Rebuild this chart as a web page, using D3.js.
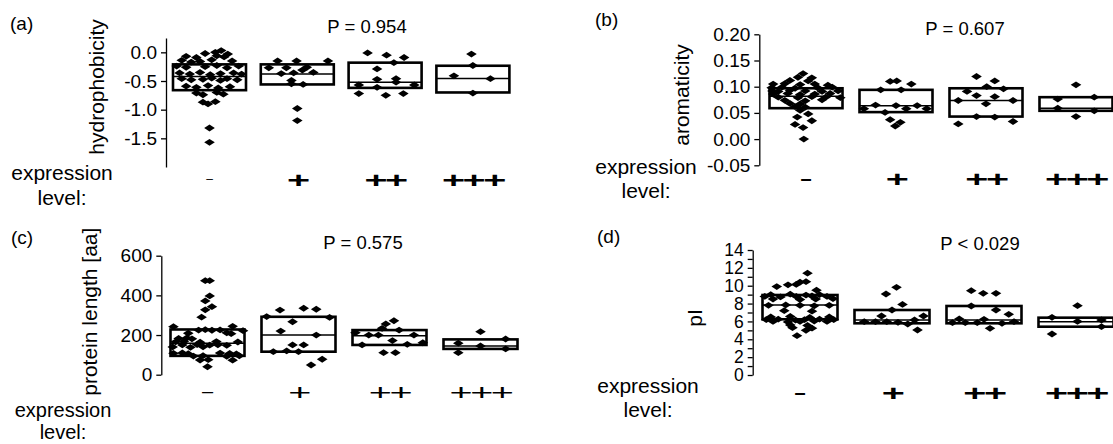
<!DOCTYPE html>
<html><head><meta charset="utf-8">
<script src="https://cdn.jsdelivr.net/npm/d3@7"></script>
<style>
body{margin:0;background:#fff}
svg{display:block}
text{font-family:"Liberation Sans",Arial,Helvetica,sans-serif;fill:#000}
</style>
</head><body>
<svg id="c" width="1113" height="444"></svg>
<script>
// ---------- DATA ----------
const categories = ["–", "+", "++", "+++"];

// each point: [value, horizontal jitter as fraction of box width]
const hydrophobicityPoints = [
  [[0.03,0.16],[0.0,0.08],[-0.02,-0.06],[-0.03,0.25],
   [-0.07,-0.32],[-0.09,-0.18],[-0.06,0.10],[-0.08,0.20],
   [-0.14,-0.38],[-0.16,-0.13],[-0.13,0.03],[-0.15,0.31],[-0.17,-0.25],
   [-0.24,-0.45],[-0.26,-0.32],[-0.25,-0.06],[-0.23,0.10],[-0.27,0.24],[-0.24,0.40],
   [-0.36,-0.41],[-0.38,-0.27],[-0.35,-0.13],[-0.39,0.01],[-0.37,0.15],[-0.36,0.33],[-0.38,0.44],
   [-0.46,-0.38],[-0.48,-0.25],[-0.47,-0.09],[-0.45,0.03],[-0.49,0.15],[-0.46,0.24],[-0.48,0.38],
   [-0.59,-0.32],[-0.61,-0.18],[-0.58,-0.02],[-0.62,0.12],[-0.60,0.28],
   [-0.71,-0.18],[-0.74,-0.09],[-0.70,0.10],[-0.73,0.19],
   [-0.87,-0.09],[-0.90,-0.02],[-0.86,0.08],
   [-1.32,0],[-1.57,0]],
  [[-0.15,-0.27],[-0.15,-0.01],[-0.15,0.42],[-0.27,-0.39],[-0.27,-0.15],[-0.26,0.13],[-0.31,0.07],
   [-0.37,-0.22],[-0.36,-0.05],[-0.35,0.22],[-0.49,-0.08],[-0.55,-0.08],[-0.56,0.08],[-0.98,0],[-1.19,0]],
  [[-0.01,-0.24],[-0.05,0.02],[-0.09,0.26],[-0.18,0.12],[-0.29,-0.11],[-0.47,-0.11],[-0.46,0.15],
   [-0.52,0.15],[-0.57,-0.36],[-0.61,-0.11],[-0.57,0.40],[-0.72,-0.36],[-0.75,0.01],[-0.72,0.25]],
  [[-0.03,-0.02],[-0.23,0],[-0.41,-0.26],[-0.46,0.24],[-0.71,0]]
];
const hydrophobicityBoxes = [[-0.66,-0.42,-0.21],[-0.56,-0.38,-0.21],[-0.62,-0.52,-0.18],[-0.70,-0.456,-0.234]];
const hydrophobicityTicks = [0, -0.5, -1.0, -1.5];

const aromaticityPoints = [
  [[0.125,-0.04],[0.118,-0.11],[0.117,0.08],[0.112,-0.22],[0.111,0.03],
   [0.105,-0.45],[0.106,-0.29],[0.104,-0.08],[0.105,0.12],[0.103,0.30],
   [0.098,-0.47],[0.099,-0.33],[0.097,-0.15],[0.098,0.16],[0.099,0.36],
   [0.092,-0.46],[0.091,-0.38],[0.093,-0.22],[0.092,-0.01],[0.091,0.22],[0.092,0.44],
   [0.086,-0.45],[0.087,-0.25],[0.085,-0.08],[0.086,0.12],[0.087,0.33],
   [0.080,-0.38],[0.079,-0.11],[0.081,0.08],[0.080,0.27],[0.079,0.47],
   [0.074,-0.29],[0.073,-0.01],[0.075,0.22],
   [0.068,-0.22],[0.067,-0.08],[0.062,-0.15],[0.061,-0.01],
   [0.055,-0.08],[0.048,0.03],[0.042,-0.12],[0.035,0.08],[0.028,-0.15],[0.022,-0.04],[0.0,-0.03]],
  [[0.110,-0.08],[0.111,0.01],[0.105,0.21],[0.094,-0.21],[0.094,0.07],[0.065,-0.28],[0.064,0.0],
   [0.064,0.29],[0.058,-0.44],[0.058,0.14],[0.058,0.42],[0.051,-0.15],[0.037,-0.08],[0.032,0.06],[0.025,-0.01]],
  [[0.1195,-0.13],[0.111,0.12],[0.100,0.01],[0.096,0.24],[0.091,-0.26],[0.083,-0.13],[0.081,0.12],
   [0.0737,-0.38],[0.0737,0.37],[0.0674,0],[0.043,-0.13],[0.042,0.12],[0.0336,0.37],[0.029,-0.38]],
  [[0.1036,0],[0.0763,-0.25],[0.080,0.25],[0.059,-0.25],[0.054,0.25],[0.043,0]]
];
const aromaticityBoxes = [[0.059,0.082,0.097],[0.0515,0.0636,0.094],[0.043,0.0737,0.097],[0.054,0.059,0.080]];
const aromaticityTicks = [0.20, 0.15, 0.10, 0.05, 0.00, -0.05];

const lengthPoints = [
  [[474,-0.03],[474,0.03],[397,0.03],[372,-0.03],[343,0.06],[327,-0.03],[290,-0.08],
   [242,-0.46],[244,0.34],
   [225,-0.12],[227,-0.03],[224,0.06],[226,0.17],[222,0.48],
   [209,-0.26],[211,0.26],[207,0.32],
   [183,-0.39],[185,-0.28],[181,-0.21],
   [166,-0.43],[168,-0.32],[164,-0.10],[167,0.12],[165,0.41],
   [150,-0.34],[152,-0.14],[149,0.03],[151,0.14],[148,0.26],
   [140,-0.47],[138,-0.23],[141,-0.06],
   [108,-0.46],[110,-0.34],[106,-0.26],[109,0.17],[107,0.30],[105,0.39],
   [94,-0.19],[96,-0.06],[93,0.26],[95,0.43],
   [74,-0.10],[76,0.01],[73,0.34],
   [40,0.0]],
  [[326,-0.25],[335,0.07],[330,0.24],[293,-0.43],[267,-0.08],[289,0.42],[220,-0.24],[200,0.24],
   [150,-0.08],[150,0.07],[116,-0.34],[120,-0.16],[116,0.0],[78,0.32],[49,0.17]],
  [[272,0.06],[256,-0.05],[234,-0.10],[212,-0.46],[200,-0.28],[200,-0.15],[225,0.13],[200,0.33],
   [172,0.04],[150,-0.37],[153,0.24],[161,0.45],[111,-0.08],[111,0.08]],
  [[217,0],[159,-0.30],[180,0.34],[111,-0.30],[145,0],[130,0.34]]
];
const lengthBoxes = [[95,158,228],[116,200,292],[150,197,225],[130,145,178]];
const lengthTicks = [0, 200, 400, 600];

const pIPoints = [
  [[11.4,0.10],[10.4,0.0],[10.45,0.08],[10.1,-0.16],[10.15,-0.05],[9.9,-0.31],[9.5,0.22],
   [9.0,-0.39],[9.05,-0.13],[8.95,0.08],[9.0,0.26],
   [8.8,-0.47],[8.75,-0.26],[8.8,-0.05],[8.85,0.16],[8.8,0.36],
   [8.5,-0.36],[8.45,0.0],[8.5,0.21],[8.55,0.44],
   [7.8,-0.42],[7.85,-0.19],[7.8,0.0],[7.75,0.19],[7.8,0.39],
   [7.2,-0.21],[7.15,0.16],
   [6.5,-0.39],[6.55,-0.13],[6.45,0.13],[6.5,0.39],
   [6.2,-0.45],[6.25,-0.29],[6.15,-0.06],[6.2,0.06],[6.25,0.26],[6.2,0.45],
   [6.0,-0.36],[5.95,-0.16],[6.0,0.0],[6.05,0.19],[6.0,0.36],
   [5.6,-0.13],[5.55,0.10],[5.3,-0.10],[5.25,0.16],[5.0,0.08],[4.4,-0.04]],
  [[9.82,0.06],[9.07,-0.08],[7.91,0.14],[7.28,0],[6.61,-0.14],[6.61,0.42],[6.16,0.30],[5.97,-0.37],
   [5.97,-0.22],[5.97,-0.07],[5.90,0.08],[5.71,0.21],[5.04,0.34]],
  [[9.44,-0.17],[9.15,-0.01],[9.15,0.16],[7.73,-0.17],[7.28,0.16],[6.80,0.33],[6.27,-0.33],[6.24,0],
   [5.86,-0.42],[5.86,-0.25],[5.86,-0.09],[5.79,0.24],[5.97,0.40],[5.23,0.08]],
  [[7.76,0.02],[6.46,-0.32],[6.16,0.34],[6.0,0.02],[5.41,0.34],[4.59,-0.32]]
];
const pIBoxes = [[6.24,7.84,8.96],[5.79,6.16,7.28],[5.79,6.16,7.73],[5.41,5.97,6.42]];
const pITicks = [0,1,2,3,4,5,6,7,8,9,10,11,12,13,14];

const pValues = ["P = 0.954", "P = 0.607", "P = 0.575", "P < 0.029"];
const yTitles = ["hydrophobicity", "aromaticity", "protein length [aa]", "pI"];
const panelLetters = ["(a)", "(b)", "(c)", "(d)"];

// ---------- LAYOUT ----------
const panels = [
  { points: hydrophobicityPoints, boxes: hydrophobicityBoxes, ticks: hydrophobicityTicks,
    fmt: d => d.toFixed(1), yDomain: [-2, 0.25], yRange: [167, 38], axisX: 166,
    xRange: [165.6, 516.8], boxW: 73, tickFont: 19, catY: 180,
    letter: [10, 30], p: [367, 33], title: [104, 87], expr: [62, 180, 205], exprFont: 21,
    plusBold: true, dash: {size: 12, bold: false} },
  { points: aromaticityPoints, boxes: aromaticityBoxes, ticks: aromaticityTicks,
    fmt: d => d.toFixed(2), yDomain: [-0.05, 0.20], yRange: [165.3, 34.3], axisX: 759.3,
    xRange: [761, 1121], boxW: 73, tickFont: 19, catY: 179,
    letter: [595, 26], p: [965, 35], title: [689, 95], expr: [646, 174, 198], exprFont: 21,
    plusBold: true, dash: {size: 20, bold: true} },
  { points: lengthPoints, boxes: lengthBoxes, ticks: lengthTicks,
    fmt: d => String(d), yDomain: [0, 600], yRange: [374.7, 255.7], axisX: 161.3,
    xRange: [162, 526], boxW: 74, tickFont: 19, catY: 392,
    letter: [11, 244], p: [363, 249], title: [97, 311.7], expr: [63, 417, 439], exprFont: 20,
    plusBold: false, dash: {size: 20, bold: false} },
  { points: pIPoints, boxes: pIBoxes, ticks: pITicks,
    fmt: d => (d % 2 === 0 ? String(d) : ""), yDomain: [0, 14], yRange: [375, 250], axisX: 752.7,
    xRange: [754, 1122], boxW: 75, tickFont: 17.5, catY: 393,
    letter: [597, 243], p: [980, 250], title: [702, 318], expr: [648, 393, 417], exprFont: 21,
    plusBold: true, dash: {size: 20, bold: true} }
];

const svg = d3.select("#c");
const diamond = "M0,-3.4L5.3,0L0,3.4L-5.3,0Z";

panels.forEach((p, pi) => {
  const g = svg.append("g");
  const y = d3.scaleLinear().domain(p.yDomain).range(p.yRange);
  const x = d3.scaleBand().domain(categories).range(p.xRange).padding(0);

  const axis = d3.axisLeft(y).tickValues(p.ticks).tickFormat(p.fmt)
    .tickSize(5).tickSizeOuter(0).tickPadding(4);
  const ag = g.append("g").attr("transform", `translate(${p.axisX},0)`).call(axis)
    .attr("font-size", p.tickFont).attr("font-family", '"Liberation Sans",Arial,sans-serif');
  ag.selectAll("path,line").attr("stroke", "#000").attr("stroke-width", 1.3);
  ag.selectAll("text").attr("fill", "#000");

  categories.forEach((c, i) => {
    const cx = x(c) + x.bandwidth() / 2;
    const [q1, med, q3] = p.boxes[i];
    g.append("rect")
      .attr("x", cx - p.boxW / 2).attr("y", y(q3))
      .attr("width", p.boxW).attr("height", y(q1) - y(q3))
      .attr("fill", "none").attr("stroke", "#000").attr("stroke-width", 2.6);
    g.append("line")
      .attr("x1", cx - p.boxW / 2).attr("x2", cx + p.boxW / 2)
      .attr("y1", y(med)).attr("y2", y(med))
      .attr("stroke", "#000").attr("stroke-width", 1.5);
    g.append("g").selectAll("path").data(p.points[i]).join("path")
      .attr("d", diamond).attr("fill", "#000")
      .attr("transform", d => `translate(${cx + d[1] * p.boxW},${y(d[0])})`);

    // category label
    const lg = g.append("g").attr("transform", `translate(${cx},${p.catY})`);
    if (i === 0) {
      lg.append("text").attr("text-anchor", "middle")
        .attr("y", p.dash.size * 0.28)
        .attr("font-size", p.dash.size)
        .attr("font-weight", p.dash.bold ? "bold" : "normal")
        .text(c);
    } else {
      lg.append("g").attr("transform", "scale(1.65,0.92)")
        .append("text").attr("text-anchor", "middle")
        .attr("y", 24 * 0.34).attr("font-size", 24)
        .attr("letter-spacing", -1.5)
        .attr("font-weight", p.plusBold ? "bold" : "normal")
        .text(c);
    }
  });

  svg.append("text").attr("x", p.letter[0]).attr("y", p.letter[1])
    .attr("font-size", 19).text(panelLetters[pi]);
  svg.append("text").attr("x", p.p[0]).attr("y", p.p[1]).attr("text-anchor", "middle")
    .attr("font-size", 18.5).text(pValues[pi]);
  svg.append("text").attr("transform", `translate(${p.title[0]},${p.title[1]}) rotate(-90)`)
    .attr("text-anchor", "middle").attr("font-size", 21).text(yTitles[pi]);
  svg.append("text").attr("x", p.expr[0]).attr("y", p.expr[1]).attr("text-anchor", "middle")
    .attr("font-size", p.exprFont).text("expression");
  svg.append("text").attr("x", p.expr[0]).attr("y", p.expr[2]).attr("text-anchor", "middle")
    .attr("font-size", p.exprFont).text("level:");
});
</script>
</body></html>
